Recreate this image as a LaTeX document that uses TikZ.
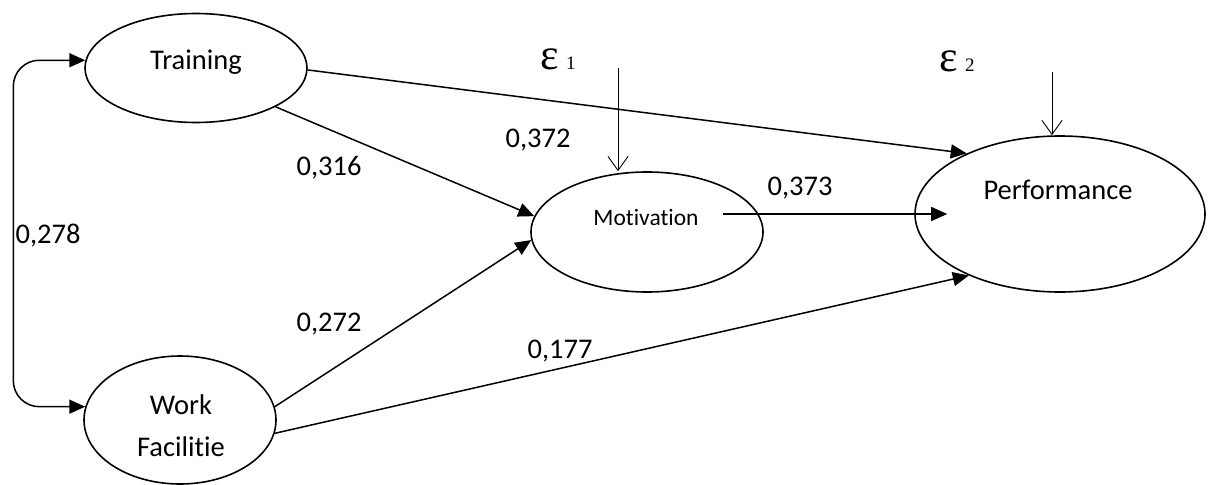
\documentclass[tikz,border=0pt]{standalone}
\usepackage{fontspec}
\setmainfont[Ligatures=NoCommon]{Carlito}
\newfontfamily\greekfont{Liberation Serif}
\usetikzlibrary{arrows.meta}
\usetikzlibrary{shapes.geometric}

\begin{document}
\begin{tikzpicture}[x=1pt, y=-1pt,
		construct/.style={draw, ellipse, line width=1.6pt, inner sep=0pt},
		effect/.style={line width=1.5pt, -{Triangle[length=16pt,width=14pt]}},
		disturb/.style={line width=0.9pt, -{Straight Barb[length=14pt,width=20pt]}},
		coef/.style={font=\fontsize{28.5}{34}\selectfont, inner sep=0pt},
		epslbl/.style={font=\greekfont\fontsize{44}{50}\selectfont, inner sep=0pt}]
				\useasboundingbox (0,0) rectangle (1214,484);
				% latent variables
				\node[construct, minimum width=222pt, minimum height=109pt] (train) at (196,68) {};
				\node[construct, minimum width=192pt, minimum height=128pt] (wf) at (180,420) {};
				\node[construct, minimum width=232pt, minimum height=120pt] (mot) at (647,232) {};
				\node[construct, minimum width=290pt, minimum height=156pt] (perf) at (1060,214) {};
				\node[coef] (trainlbl) at (196,62) {Training};
				\node[coef, align=center, font=\fontsize{28.5}{42}\selectfont] (wflbl) at (181,426) {Work\\Facilitie};
				\node[coef, font=\fontsize{23.5}{28}\selectfont] (motlbl) at (646,218) {Motivation};
				\node[coef] (perflbl) at (1058,190) {Performance};
				% paths
				\draw[effect] (train.-26) -- (mot.172);
				\draw[effect] (train.-1) -- (perf.147);
				\draw[effect] (wf.8) -- (mot.-176);
				\draw[effect] (wf.-8) -- (perf.-146);
				\draw[effect, shorten <=-41pt, shorten >=-33pt] (perf.west -| mot.east) -- (perf.west);
				\draw[line width=1.5pt, {Triangle[length=16pt,width=14pt]}-{Triangle[length=16pt,width=14pt]}, rounded corners=26pt] (train.176) -- ++(-72,0) |- (wf.172);
				% errors
				\coordinate (e1top) at (618,68);
				\coordinate (e2top) at (1052,72);
				\draw[disturb] (e1top) -- (e1top |- mot.north);
				\draw[disturb] (e2top) -- (e2top |- perf.north);
				\node[epslbl] (eps1) at (558,59) {ε\,{\fontsize{19}{21}\selectfont 1}};
				\node[epslbl] (eps2) at (957,61) {ε\,{\fontsize{19}{21}\selectfont 2}};
				% coefficients
				\node[coef] (c278) at (48,236) {0,278};
				\node[coef] (c316) at (329,168) {0,316};
				\node[coef] (c372) at (538,140) {0,372};
				\node[coef] (c373) at (800,188) {0,373};
				\node[coef] (c272) at (329,324) {0,272};
				\node[coef] (c177) at (560,351) {0,177};
			\end{tikzpicture}
\end{document}
